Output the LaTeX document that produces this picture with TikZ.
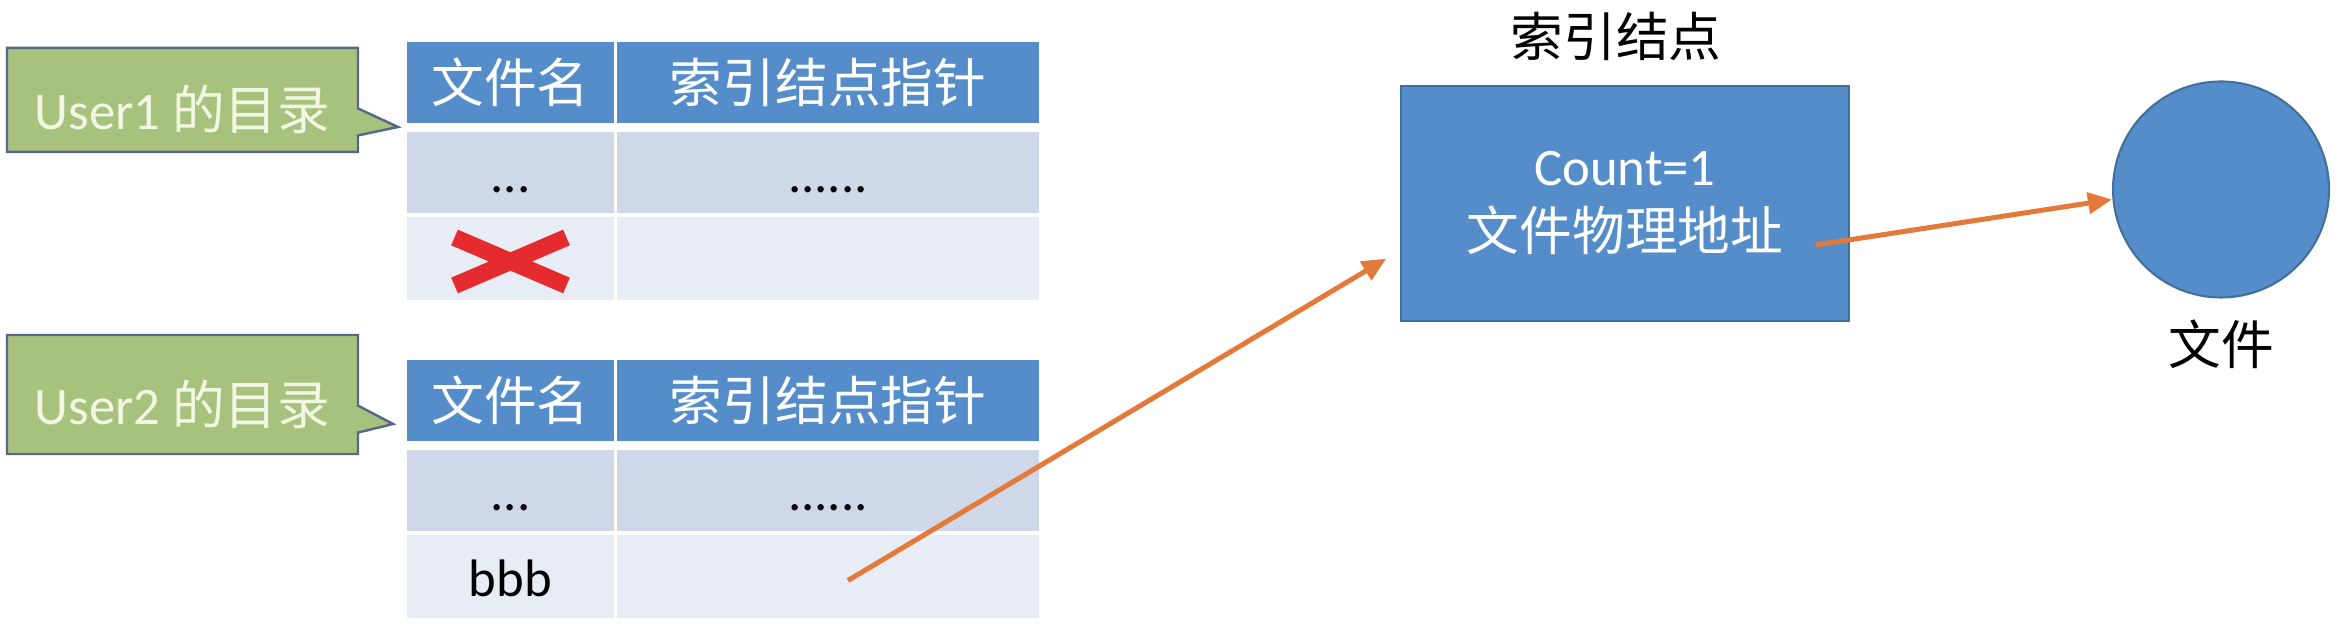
\documentclass[tikz,border=0pt]{standalone}
\usepackage{fontspec}
\setmainfont{Carlito}
\newfontfamily\cjk{Noto Sans CJK SC}
\usetikzlibrary{positioning,shapes.callouts,shapes.misc,arrows.meta}

\definecolor{cellblue}{HTML}{558DCA}
\definecolor{boxline}{HTML}{41709F}
\definecolor{banddark}{HTML}{CFD8E8}
\definecolor{bandlight}{HTML}{E8ECF4}
\definecolor{notegreen}{HTML}{A7C27C}
\definecolor{noteline}{HTML}{56698A}
\definecolor{notetext}{HTML}{F2F6E2}
\definecolor{linkorange}{HTML}{E47A3A}
\definecolor{xred}{HTML}{E62B2E}

\begin{document}
\begin{tikzpicture}[
    font=\fontsize{15}{18.5}\selectfont,
    cell/.style={rectangle, inner sep=0pt, outer sep=0pt, minimum height=0.81cm, text height=0.46cm, text depth=0.06cm},
    head/.style={cell, fill=cellblue, text=white},
    banda/.style={cell, fill=banddark},
    bandb/.style={cell, fill=bandlight, minimum height=0.83cm},
    namecol/.style={minimum width=2.07cm},
    ptrcol/.style={minimum width=4.22cm},
    note/.style={rectangle callout, fill=notegreen, draw=noteline, line width=0.7pt, text=notetext, inner sep=0pt, minimum width=3.51cm, callout pointer width=0.27cm, text height=0.66cm, text depth=0.06cm},
    block/.style={rectangle, fill=cellblue, draw=boxline, line width=0.6pt, text=white, align=center, minimum width=4.48cm, minimum height=2.35cm},
    link/.style={-{Triangle[length=0.24cm, width=0.21cm]}, draw=linkorange, line width=0.05cm}
]
\useasboundingbox (0,0) rectangle (23.42,6.42);

% User1 directory
\node[head, namecol, anchor=north west] (h1a) at (4.07,6.00) {\cjk 文件名};
\node[head, ptrcol, right=0.03cm of h1a] (h1b) {\cjk 索引结点指针};
\node[banda, namecol, below=0.09cm of h1a] (r1a) {...};
\node[banda, ptrcol, right=0.03cm of r1a] (r1b) {......};
\node[bandb, namecol, below=0.04cm of r1a] (s1a) {};
\node[bandb, ptrcol, right=0.03cm of s1a] (s1b) {};
\node[cross out, draw=xred, line width=0.17cm, inner sep=0pt, outer sep=0pt, minimum width=1.12cm, minimum height=0.48cm] (gone) at ([yshift=-0.03cm]s1a.center) {};

% User2 directory
\node[head, namecol, anchor=north west] (h2a) at (4.07,2.82) {\cjk 文件名};
\node[head, ptrcol, right=0.03cm of h2a] (h2b) {\cjk 索引结点指针};
\node[banda, namecol, below=0.09cm of h2a] (r2a) {...};
\node[banda, ptrcol, right=0.03cm of r2a] (r2b) {......};
\node[bandb, namecol, below=0.04cm of r2a] (s2a) {bbb};
\node[bandb, ptrcol, right=0.03cm of s2a] (s2b) {};

% Callouts
\node[note, minimum height=1.04cm, callout absolute pointer={([xshift=-0.09cm,yshift=-0.04cm]h1a.south west)}] (user1) at (1.825,5.42) {User1 {\cjk 的目录}};
\node[note, minimum height=1.19cm, callout absolute pointer={([xshift=-0.14cm,yshift=0.17cm]h2a.south west)}] (user2) at (1.825,2.475) {User2 {\cjk 的目录}};

% Index node and file
\node[block] (inode) at (16.25,4.385) {Count=1\\{\cjk 文件物理地址}};
\node[above=0.24cm of inode, xshift=-0.09cm, inner sep=0pt] (inodelabel) {\cjk 索引结点};
\node[circle, fill=cellblue, draw=boxline, line width=0.6pt, minimum size=2.16cm, inner sep=0pt] (file) at (22.21,4.525) {};
\node[below=0.21cm of file, inner sep=0pt] (filelabel) {\cjk 文件};

% Arrows
\coordinate (ptr) at ([xshift=0.2cm,yshift=-0.04cm]s2b.center);
\coordinate (addr) at ([xshift=-0.34cm,yshift=-0.415cm]inode.east);
\draw[link, shorten >=0.16cm] (ptr) -- ([yshift=-0.47cm]inode.west);
\draw[link] (addr) -- ([yshift=-0.1cm]file.west);

\end{tikzpicture}
\end{document}
